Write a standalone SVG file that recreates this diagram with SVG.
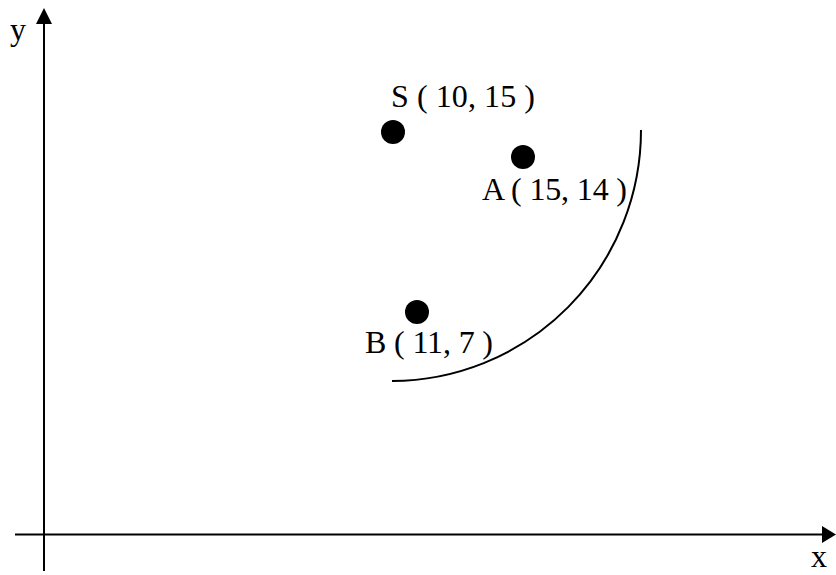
<svg xmlns="http://www.w3.org/2000/svg" width="836" height="575" viewBox="0 0 836 575">
<style>
.t{font-family:"Liberation Serif","Times New Roman",serif;font-size:32px;fill:#000}
.ax{stroke:#000;stroke-width:2;fill:none}
.dot{fill:#000}
</style>
<rect width="836" height="575" fill="#fff"/>
<g id="axes">
<line class="ax" x1="44" y1="571" x2="44" y2="22"/>
<polygon points="44,8 36,24 52,24" fill="#000"/>
<line class="ax" x1="15" y1="534.5" x2="824" y2="534.5"/>
<polygon points="836,534.5 822,526 822,543" fill="#000"/>
<text class="t" x="10" y="40">y</text>
<text class="t" x="811" y="567">x</text>
</g>
<g id="connectors">
<path class="ax" d="M641,130 A250,251 0 0 1 392,381"/>
</g>
<g id="S">
<circle class="dot" cx="393" cy="132" r="12"/>
<text class="t" x="391" y="107" textLength="144" lengthAdjust="spacing">S ( 10, 15 )</text>
</g>
<g id="A">
<circle class="dot" cx="523" cy="157" r="12"/>
<text class="t" x="482" y="200" textLength="145" lengthAdjust="spacing">A ( 15, 14 )</text>
</g>
<g id="B">
<circle class="dot" cx="417" cy="312" r="12"/>
<text class="t" x="365" y="353" textLength="128" lengthAdjust="spacing">B ( 11, 7 )</text>
</g>
</svg>
